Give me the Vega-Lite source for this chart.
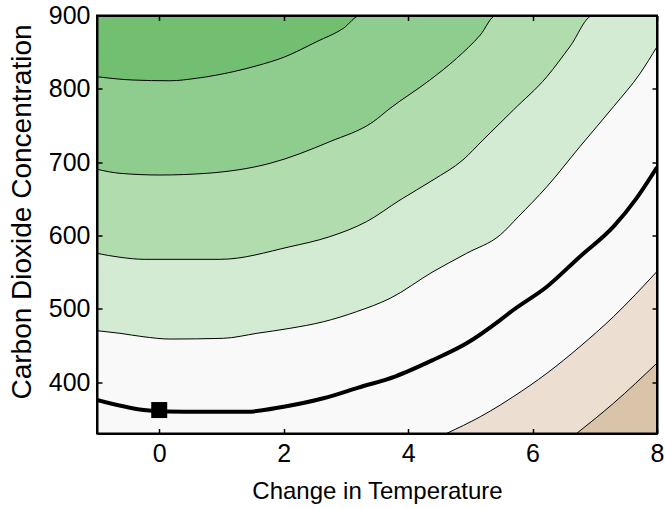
{
  "$schema": "https://vega.github.io/schema/vega-lite/v6.json",
  "width": 560,
  "height": 418,
  "autosize": {"type": "none"},
  "padding": {"left": 97, "top": 15.5, "right": 8, "bottom": 74.5},
  "config": {
    "view": {"stroke": null, "fill": "#73bf72"},
    "font": "Liberation Sans",
    "axis": {
      "domain": true, "ticks": true,
      "domainColor": "black", "domainWidth": 2,
      "tickColor": "black", "tickWidth": 1.5, "tickSize": -5,
      "labelFontSize": 25, "labelColor": "black", "labelFont": "Liberation Sans",
      "titleFontSize": 24, "titleColor": "black", "titleFontWeight": "normal", "titleFont": "Liberation Sans",
      "grid": false, "labelFlush": false, "labelOverlap": false
    }
  },
  "datasets": {
    "curves": [
      {"c": "C1", "x": -1, "y": 816.5}, {"c": "C1", "x": -0.42, "y": 812}, {"c": "C1", "x": 0.17, "y": 811}, {"c": "C1", "x": 0.6, "y": 814.4}, {"c": "C1", "x": 1.19, "y": 823.4}, {"c": "C1", "x": 1.57, "y": 831.5}, {"c": "C1", "x": 2.0, "y": 843}, {"c": "C1", "x": 2.53, "y": 864.3}, {"c": "C1", "x": 2.96, "y": 882.5}, {"c": "C1", "x": 3.23, "y": 900}, {"c": "C1", "x": 8, "y": 900},
      {"c": "C2", "x": -1, "y": 690.3}, {"c": "C2", "x": -0.63, "y": 684.8}, {"c": "C2", "x": 0.01, "y": 682.5}, {"c": "C2", "x": 0.76, "y": 684.8}, {"c": "C2", "x": 1.78, "y": 698.4}, {"c": "C2", "x": 2.74, "y": 727.9}, {"c": "C2", "x": 3.44, "y": 755.2}, {"c": "C2", "x": 3.71, "y": 773.4}, {"c": "C2", "x": 4.35, "y": 812}, {"c": "C2", "x": 4.78, "y": 841.6}, {"c": "C2", "x": 5.16, "y": 873.4}, {"c": "C2", "x": 5.41, "y": 900}, {"c": "C2", "x": 8, "y": 900},
      {"c": "C3", "x": -1, "y": 575.7}, {"c": "C3", "x": -0.63, "y": 570.3}, {"c": "C3", "x": -0.23, "y": 567.5}, {"c": "C3", "x": 0.98, "y": 567.5}, {"c": "C3", "x": 2.1, "y": 584.7}, {"c": "C3", "x": 2.74, "y": 598.4}, {"c": "C3", "x": 3.33, "y": 618.8}, {"c": "C3", "x": 3.87, "y": 648.4}, {"c": "C3", "x": 4.4, "y": 675.7}, {"c": "C3", "x": 4.88, "y": 703}, {"c": "C3", "x": 5.2, "y": 730}, {"c": "C3", "x": 5.69, "y": 771}, {"c": "C3", "x": 6.23, "y": 816.5}, {"c": "C3", "x": 6.6, "y": 857.5}, {"c": "C3", "x": 6.97, "y": 900}, {"c": "C3", "x": 8, "y": 900},
      {"c": "C4", "x": -1, "y": 470.2}, {"c": "C4", "x": -0.63, "y": 466.6}, {"c": "C4", "x": -0.26, "y": 462}, {"c": "C4", "x": 0.17, "y": 458.8}, {"c": "C4", "x": 1.03, "y": 459.8}, {"c": "C4", "x": 1.57, "y": 466.6}, {"c": "C4", "x": 2.1, "y": 473.4}, {"c": "C4", "x": 2.64, "y": 482.4}, {"c": "C4", "x": 3.17, "y": 496.1}, {"c": "C4", "x": 3.71, "y": 514.3}, {"c": "C4", "x": 4.4, "y": 550.6}, {"c": "C4", "x": 4.94, "y": 575.7}, {"c": "C4", "x": 5.48, "y": 600.7}, {"c": "C4", "x": 5.77, "y": 625.5}, {"c": "C4", "x": 6.23, "y": 666.5}, {"c": "C4", "x": 6.76, "y": 721.1}, {"c": "C4", "x": 7.3, "y": 775.6}, {"c": "C4", "x": 7.73, "y": 821.2}, {"c": "C4", "x": 8.0, "y": 857.5},
      {"c": "C5", "x": -1, "y": 375.7}, {"c": "C5", "x": -0.25, "y": 362}, {"c": "C5", "x": 0.12, "y": 360}, {"c": "C5", "x": 0.7, "y": 359.5}, {"c": "C5", "x": 1.41, "y": 359.7}, {"c": "C5", "x": 2.0, "y": 366.5}, {"c": "C5", "x": 2.64, "y": 378}, {"c": "C5", "x": 3.2, "y": 392.5}, {"c": "C5", "x": 3.8, "y": 408}, {"c": "C5", "x": 4.4, "y": 430.2}, {"c": "C5", "x": 4.94, "y": 453}, {"c": "C5", "x": 5.48, "y": 484.7}, {"c": "C5", "x": 5.69, "y": 498.4}, {"c": "C5", "x": 6.23, "y": 530.2}, {"c": "C5", "x": 6.76, "y": 571.1}, {"c": "C5", "x": 7.3, "y": 612}, {"c": "C5", "x": 7.67, "y": 650.7}, {"c": "C5", "x": 8.0, "y": 693},
      {"c": "C6", "x": 4.62, "y": 330.2}, {"c": "C6", "x": 5.16, "y": 352.9}, {"c": "C6", "x": 5.48, "y": 368.8}, {"c": "C6", "x": 5.69, "y": 380.2}, {"c": "C6", "x": 6.23, "y": 412.1}, {"c": "C6", "x": 6.76, "y": 448.4}, {"c": "C6", "x": 7.3, "y": 489.3}, {"c": "C6", "x": 8.0, "y": 551},
      {"c": "C7", "x": 6.71, "y": 330.2}, {"c": "C7", "x": 7.3, "y": 371.2}, {"c": "C7", "x": 8.0, "y": 426}
    ],
    "marker": [{"x": 0, "y": 362}],
    "frame": [{"x0": -1, "x1": 8, "y0": 330, "y1": 900}]
  },
  "data": {"name": "curves"},
  "encoding": {
    "x": {"field": "x", "type": "quantitative", "scale": {"domain": [-1, 8], "nice": false, "zero": false}, "axis": null},
    "y": {"field": "y", "type": "quantitative", "scale": {"domain": [330, 900], "nice": false, "zero": false}, "axis": null}
  },
  "layer": [
    {"transform": [{"filter": "datum.c === 'C1'"}], "mark": {"type": "area", "clip": true, "interpolate": "monotone", "color": "#8fcd8e"}, "encoding": {"y2": {"datum": 330}}},
    {"transform": [{"filter": "datum.c === 'C2'"}], "mark": {"type": "area", "clip": true, "interpolate": "monotone", "color": "#b1dcae"}, "encoding": {"y2": {"datum": 330}}},
    {"transform": [{"filter": "datum.c === 'C3'"}], "mark": {"type": "area", "clip": true, "interpolate": "monotone", "color": "#d4ebd3"}, "encoding": {"y2": {"datum": 330}}},
    {"transform": [{"filter": "datum.c === 'C4'"}], "mark": {"type": "area", "clip": true, "interpolate": "monotone", "color": "#f9f9f9"}, "encoding": {"y2": {"datum": 330}}},
    {"transform": [{"filter": "datum.c === 'C5'"}], "mark": {"type": "area", "clip": true, "interpolate": "monotone", "color": "#f9f9f9"}, "encoding": {"y2": {"datum": 330}}},
    {"transform": [{"filter": "datum.c === 'C6'"}], "mark": {"type": "area", "clip": true, "interpolate": "monotone", "color": "#ecdfd2"}, "encoding": {"y2": {"datum": 330}}},
    {"transform": [{"filter": "datum.c === 'C7'"}], "mark": {"type": "area", "clip": true, "interpolate": "monotone", "color": "#d9c4aa"}, "encoding": {"y2": {"datum": 330}}},
    {
      "transform": [{"filter": "datum.c !== 'C5'"}],
      "mark": {"type": "line", "clip": true, "interpolate": "monotone", "color": "black", "strokeWidth": 1},
      "encoding": {"detail": {"field": "c"}}
    },
    {
      "transform": [{"filter": "datum.c === 'C5'"}],
      "mark": {"type": "line", "clip": true, "interpolate": "monotone", "color": "black", "strokeWidth": 4},
      "encoding": {
        "x": {"field": "x", "type": "quantitative", "axis": {"orient": "bottom", "zindex": 1, "values": [0, 2, 4, 6, 8], "title": "Change in Temperature", "labelPadding": 13, "titlePadding": 13}},
        "y": {"field": "y", "type": "quantitative", "axis": {"orient": "left", "zindex": 1, "values": [400, 500, 600, 700, 800, 900], "title": "Carbon Dioxide Concentration", "titleFontSize": 28, "titleY": 196, "labelPadding": 12, "titlePadding": 12}}
      }
    },
    {
      "data": {"name": "marker"},
      "mark": {"type": "square", "size": 256, "color": "black", "opacity": 1, "filled": true},
      "encoding": {
        "x": {"field": "x", "type": "quantitative", "axis": {"orient": "top", "zindex": 1, "values": [0, 2, 4, 6, 8], "labels": false, "title": null}},
        "y": {"field": "y", "type": "quantitative", "axis": {"orient": "right", "zindex": 1, "values": [400, 500, 600, 700, 800, 900], "labels": false, "title": null}}
      }
    },
    {
      "data": {"name": "frame"},
      "mark": {"type": "rect", "fill": null, "fillOpacity": 0, "stroke": "black", "strokeWidth": 2},
      "encoding": {
        "x": {"field": "x0", "type": "quantitative"},
        "x2": {"field": "x1"},
        "y": {"field": "y0", "type": "quantitative"},
        "y2": {"field": "y1"}
      }
    }
  ],
  "resolve": {"axis": {"x": "independent", "y": "independent"}}
}
